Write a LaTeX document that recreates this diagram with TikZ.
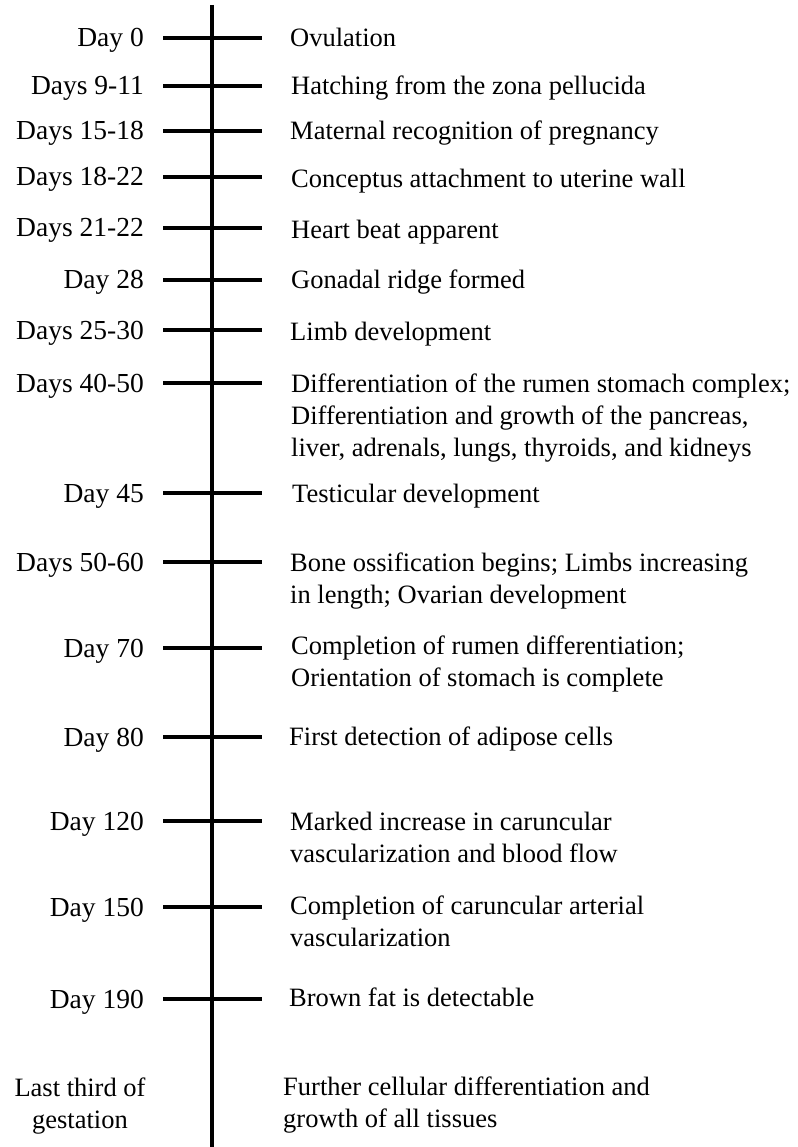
\documentclass[tikz,border=0pt]{standalone}
\usepackage{fontspec}
\setmainfont{Liberation Serif}
\begin{document}
\begin{tikzpicture}[x=1pt,y=-1pt,
  txt/.style={inner sep=0pt,font=\fontsize{26.5}{32}\selectfont},
  lbl/.style={inner sep=0pt,font=\fontsize{27.5}{32}\selectfont,anchor=base east},
  desc/.style={txt,anchor=base west},
  axis/.style={line width=4.6pt},
  tickline/.style={line width=4pt}]
\useasboundingbox[fill=white] (0,0) rectangle (797,1147);
% axis
\coordinate (top) at (212,5);
\coordinate (bottom) at (212,1147);
\draw[axis] (top) -- (bottom);
% ticks
\foreach \n/\y in {1/38,2/86,3/131,4/177,5/228,6/280,7/330,8/383,9/493,10/562,11/648,12/737,13/821,14/907,15/999}{
  \coordinate (tl\n) at (163,\y);
  \coordinate (tr\n) at (262,\y);
  \draw[tickline] (tl\n) -- (tr\n);
}
% left labels
\node[lbl] (l1) at (144,47) {Day 0};
\node[lbl] (l2) at (144,95) {Days 9-11};
\node[lbl] (l3) at (144,140) {Days 15-18};
\node[lbl] (l4) at (144,186) {Days 18-22};
\node[lbl] (l5) at (144,237) {Days 21-22};
\node[lbl] (l6) at (144,289) {Day 28};
\node[lbl] (l7) at (144,339) {Days 25-30};
\node[lbl] (l8) at (144,392) {Days 40-50};
\node[lbl] (l9) at (144,502) {Day 45};
\node[lbl] (l10) at (144,571) {Days 50-60};
\node[lbl] (l11) at (144,657) {Day 70};
\node[lbl] (l12) at (144,746) {Day 80};
\node[lbl] (l13) at (144,830) {Day 120};
\node[lbl] (l14) at (144,916) {Day 150};
\node[lbl] (l15) at (144,1008) {Day 190};
\node[txt,anchor=base] (l16) at (80,1096) {\begin{tabular}[t]{@{}c@{}}Last third of\\gestation\end{tabular}};
% right descriptions
\node[desc] (r1) at (290,47) {Ovulation};
\node[desc] (r2) at (291,95) {Hatching from the zona pellucida};
\node[desc] (r3) at (290,140) {Maternal recognition of pregnancy};
\node[desc] (r4) at (291,188) {Conceptus attachment to uterine wall};
\node[desc] (r5) at (291,239) {Heart beat apparent};
\node[desc] (r6) at (291,289) {Gonadal ridge formed};
\node[desc] (r7) at (290,340) {Limb development};
\node[desc] (r8) at (291,392) {\begin{tabular}[t]{@{}l@{}}Differentiation of the rumen stomach complex;\\Differentiation and growth of the pancreas,\\liver, adrenals, lungs, thyroids, and kidneys\end{tabular}};
\node[desc] (r9) at (292,502) {Testicular development};
\node[desc] (r10) at (290,571) {\begin{tabular}[t]{@{}l@{}}Bone ossification begins; Limbs increasing\\in length; Ovarian development\end{tabular}};
\node[desc] (r11) at (291,654) {\begin{tabular}[t]{@{}l@{}}Completion of rumen differentiation;\\Orientation of stomach is complete\end{tabular}};
\node[desc] (r12) at (289,745) {First detection of adipose cells};
\node[desc] (r13) at (290,830) {\begin{tabular}[t]{@{}l@{}}Marked increase in caruncular\\vascularization and blood flow\end{tabular}};
\node[desc] (r14) at (290,914) {\begin{tabular}[t]{@{}l@{}}Completion of caruncular arterial\\vascularization\end{tabular}};
\node[desc] (r15) at (289,1006) {Brown fat is detectable};
\node[desc] (r16) at (283,1095) {\begin{tabular}[t]{@{}l@{}}Further cellular differentiation and\\growth of all tissues\end{tabular}};
\end{tikzpicture}
\end{document}
